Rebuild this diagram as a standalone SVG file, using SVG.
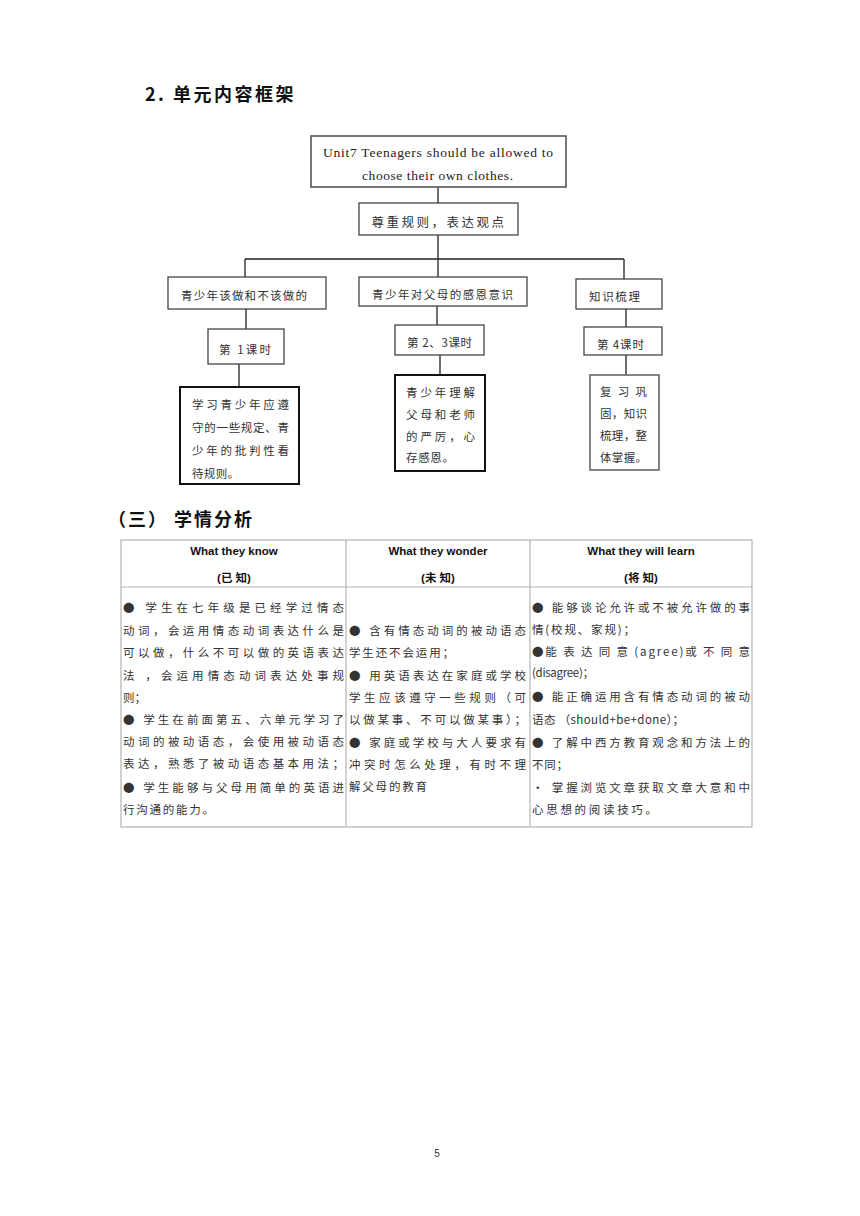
<svg xmlns="http://www.w3.org/2000/svg" width="860" height="1216" viewBox="0 0 860 1216">
<style>
.h{font-family:"Noto Sans CJK SC","Liberation Sans",sans-serif;font-weight:bold;font-size:18px;fill:#111}
.en{font-family:"Liberation Serif","DejaVu Serif",serif;font-size:13.5px;fill:#222}
.zh{font-family:"Noto Sans CJK SC",sans-serif;font-size:11.5px;fill:#333}
.bx{fill:#fff;stroke:#444;stroke-width:1.3}
.bk{fill:#fff;stroke:#111;stroke-width:2}
.bg{fill:#fff;stroke:#666;stroke-width:1.6}
.ln{stroke:#222;stroke-width:1.3;fill:none}
.hd{font-family:"Liberation Sans","Noto Sans CJK SC",sans-serif;font-weight:bold;font-size:11.5px;fill:#111}
.tb{font-family:"Noto Sans CJK SC",sans-serif;font-size:11.5px;fill:#333}
.tl{stroke:#b4b4b4;stroke-width:1.2;fill:none}
.pg{font-family:"Liberation Sans",sans-serif;font-size:10px;fill:#333}
</style>
<rect width="860" height="1216" fill="#fff"/>
<text class="h" x="145" y="101" style="letter-spacing:2.5px">2. 单元内容框架</text>

<g id="connectors">
<path class="ln" d="M438 187V203M438 235V259M245 259H624M245 259V277M438 259V277M624 259V279"/>
<path class="ln" d="M246 309V329M437 306V325M626 309V327"/>
<path class="ln" d="M239 364V387M440 355V375M626 355V375"/>
</g>

<g id="n-unit">
<rect class="bx" x="311" y="136" width="255" height="51" style="stroke:#555;stroke-width:1.6"/>
<text class="en" x="323" y="157" textLength="230" lengthAdjust="spacing">Unit7  Teenagers should be allowed to</text>
<text class="en" x="362" y="180" textLength="151" lengthAdjust="spacing">choose their own clothes.</text>
</g>
<g id="n-theme">
<rect class="bx" x="359" y="203" width="159" height="32"/>
<text class="zh" x="439" y="227" text-anchor="middle" style="font-size:12.5px;letter-spacing:2.5px">尊重规则，表达观点</text>
</g>
<g id="n-b1">
<rect class="bx" x="168" y="277" width="158" height="32"/>
<text class="zh" x="181" y="300" textLength="126" lengthAdjust="spacing">青少年该做和不该做的</text>
</g>
<g id="n-b2">
<rect class="bx" x="359" y="277" width="168" height="29"/>
<text class="zh" x="372" y="299" textLength="141" lengthAdjust="spacing">青少年对父母的感恩意识</text>
</g>
<g id="n-b3">
<rect class="bx" x="576" y="279" width="86" height="30"/>
<text class="zh" x="589" y="301" textLength="51" lengthAdjust="spacing">知识梳理</text>
</g>
<g id="n-l1">
<rect class="bx" x="208" y="329" width="76" height="35"/>
<text class="zh" x="219" y="354" textLength="52" lengthAdjust="spacing">第 1课时</text>
</g>
<g id="n-l2">
<rect class="bx" x="395" y="325" width="89" height="30"/>
<text class="zh" x="407" y="347" textLength="65" lengthAdjust="spacing">第 2、3课时</text>
</g>
<g id="n-l3">
<rect class="bx" x="584" y="327" width="78" height="28"/>
<text class="zh" x="597" y="349" textLength="47" lengthAdjust="spacing">第 4课时</text>
</g>
<g id="n-d1">
<rect class="bk" x="180" y="387" width="119" height="97"/>
<text class="zh" x="192" y="409" textLength="97" lengthAdjust="spacing">学习青少年应遵</text>
<text class="zh" x="192" y="432" textLength="97" lengthAdjust="spacing">守的一些规定、青</text>
<text class="zh" x="192" y="455" textLength="97" lengthAdjust="spacing">少年的批判性看</text>
<text class="zh" x="192" y="478" textLength="47" lengthAdjust="spacing">待规则。</text>
</g>
<g id="n-d2">
<rect class="bk" x="395" y="375" width="90" height="96"/>
<text class="zh" x="406" y="397" textLength="69" lengthAdjust="spacing">青少年理解</text>
<text class="zh" x="406" y="419" textLength="69" lengthAdjust="spacing">父母和老师</text>
<text class="zh" x="406" y="441" textLength="69" lengthAdjust="spacing">的严厉，心</text>
<text class="zh" x="406" y="462" textLength="48" lengthAdjust="spacing">存感恩。</text>
</g>
<g id="n-d3">
<rect class="bg" x="590" y="375" width="69" height="95"/>
<text class="zh" x="600" y="396" textLength="47" lengthAdjust="spacing">复 习 巩</text>
<text class="zh" x="600" y="418" textLength="47" lengthAdjust="spacing">固，知识</text>
<text class="zh" x="600" y="440" textLength="47" lengthAdjust="spacing">梳理，整</text>
<text class="zh" x="600" y="462" textLength="47" lengthAdjust="spacing">体掌握。</text>
</g>

<text class="h" x="108" y="526" style="letter-spacing:2px">（三） 学情分析</text>

<g id="table">
<rect class="tl" x="121" y="540" width="631" height="287"/>
<path class="tl" d="M346 540V827M530 540V827M121 587H752"/>
<text class="hd" x="234" y="555" text-anchor="middle">What they know</text>
<text class="hd" x="234" y="582" text-anchor="middle">(已 知)</text>
<text class="hd" x="438" y="555" text-anchor="middle">What they wonder</text>
<text class="hd" x="438" y="582" text-anchor="middle">(未 知)</text>
<text class="hd" x="641" y="555" text-anchor="middle">What they will learn</text>
<text class="hd" x="641" y="582" text-anchor="middle">(将 知)</text>

<g class="tb">
<text x="123" y="612" textLength="221" lengthAdjust="spacing">● 学生在七年级是已经学过情态</text>
<text x="123" y="635" textLength="221" lengthAdjust="spacing">动词，会运用情态动词表达什么是</text>
<text x="123" y="657" textLength="221" lengthAdjust="spacing">可以做，什么不可以做的英语表达</text>
<text x="123" y="680" textLength="221" lengthAdjust="spacing">法 ，会运用情态动词表达处事规</text>
<text x="123" y="702">则；</text>
<text x="123" y="724" textLength="221" lengthAdjust="spacing">● 学生在前面第五、六单元学习了</text>
<text x="123" y="746" textLength="221" lengthAdjust="spacing">动词的被动语态，会使用被动语态</text>
<text x="123" y="768" textLength="221" lengthAdjust="spacing">表达，熟悉了被动语态基本用法；</text>
<text x="123" y="792" textLength="221" lengthAdjust="spacing">● 学生能够与父母用简单的英语进</text>
<text x="123" y="814" textLength="91" lengthAdjust="spacing">行沟通的能力。</text>

<text x="349" y="635" textLength="177" lengthAdjust="spacing">● 含有情态动词的被动语态</text>
<text x="349" y="657" textLength="105" lengthAdjust="spacing">学生还不会运用；</text>
<text x="349" y="680" textLength="177" lengthAdjust="spacing">● 用英语表达在家庭或学校</text>
<text x="349" y="702" textLength="177" lengthAdjust="spacing">学生应该遵守一些规则（可</text>
<text x="349" y="724" textLength="177" lengthAdjust="spacing">以做某事、不可以做某事）；</text>
<text x="349" y="747" textLength="177" lengthAdjust="spacing">● 家庭或学校与大人要求有</text>
<text x="349" y="769" textLength="177" lengthAdjust="spacing">冲突时怎么处理，有时不理</text>
<text x="349" y="791" textLength="78" lengthAdjust="spacing">解父母的教育</text>

<text x="532" y="612" textLength="218" lengthAdjust="spacing">● 能够谈论允许或不被允许做的事</text>
<text x="532" y="634" textLength="103" lengthAdjust="spacing">情(校规、家规)；</text>
<text x="532" y="656" textLength="218" lengthAdjust="spacing">●能 表 达 同 意 (agree)或 不 同 意</text>
<text x="532" y="677" textLength="62" lengthAdjust="spacing">(disagree)；</text>
<text x="532" y="701" textLength="218" lengthAdjust="spacing">● 能正确运用含有情态动词的被动</text>
<text x="532" y="724" textLength="152" lengthAdjust="spacing">语态 （should+be+done）；</text>
<text x="532" y="747" textLength="218" lengthAdjust="spacing">● 了解中西方教育观念和方法上的</text>
<text x="532" y="769" textLength="36" lengthAdjust="spacing">不同；</text>
<text x="532" y="792" textLength="218" lengthAdjust="spacing">• 掌握浏览文章获取文章大意和中</text>
<text x="532" y="814" textLength="125" lengthAdjust="spacing">心思想的阅读技巧。</text>
</g>
</g>

<text class="pg" x="437" y="1157" text-anchor="middle">5</text>
</svg>
